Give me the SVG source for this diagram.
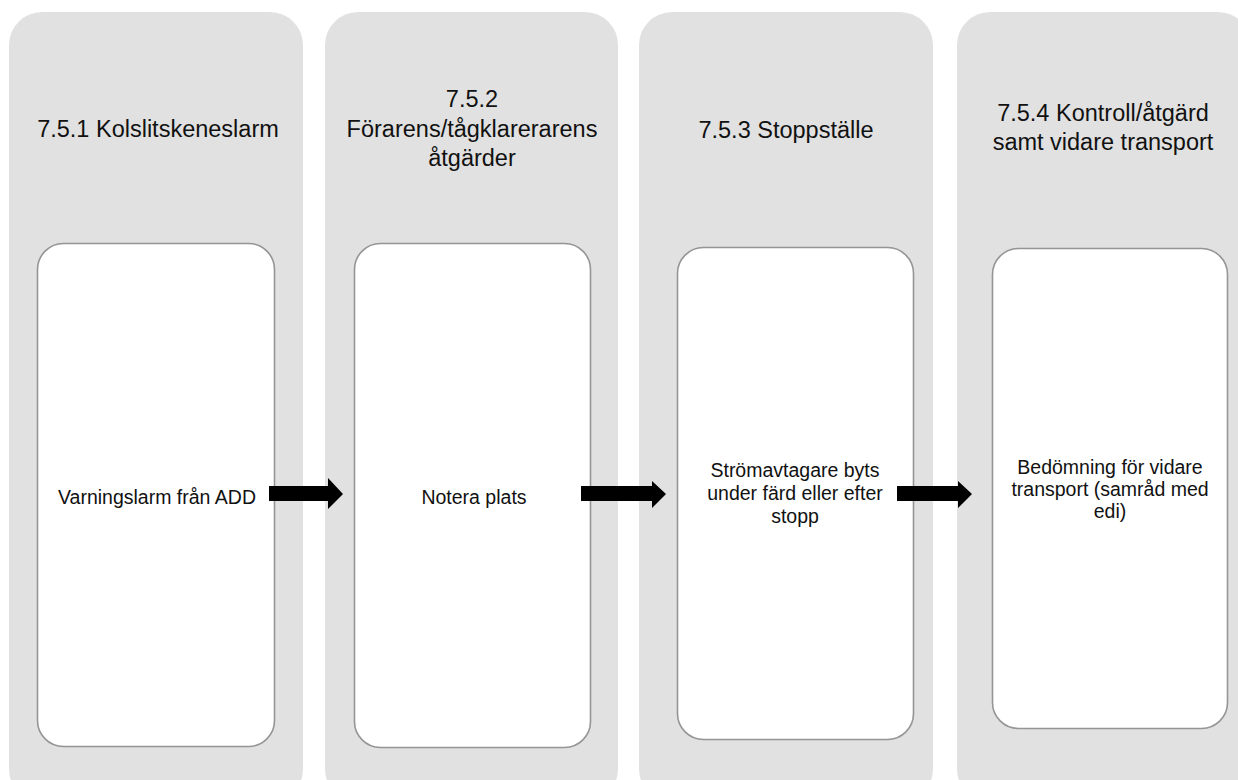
<svg xmlns="http://www.w3.org/2000/svg" width="1238" height="780" viewBox="0 0 1238 780">
<style>
.col{fill:#e1e1e1;}
.box{fill:#ffffff;stroke:#959595;stroke-width:1.6;}
.hd{font-family:"Liberation Sans",Arial,sans-serif;font-size:23.5px;fill:#111;text-anchor:middle;}
.tx{font-family:"Liberation Sans",Arial,sans-serif;font-size:19.5px;fill:#111;text-anchor:middle;}
.arr{fill:#000;}
</style>
<rect width="1238" height="780" fill="#ffffff"/>
<g id="lane1">
<rect class="col" x="9" y="12" width="294" height="790" rx="33"/>
<text class="hd" x="158" y="137">7.5.1 Kolslitskeneslarm</text>
</g>
<g id="lane2">
<rect class="col" x="325" y="12" width="293" height="790" rx="33"/>
<text class="hd" x="472" y="107">7.5.2</text>
<text class="hd" x="472" y="137">Förarens/tågklarerarens</text>
<text class="hd" x="472" y="166">åtgärder</text>
</g>
<g id="lane3">
<rect class="col" x="639" y="12" width="294" height="790" rx="33"/>
<text class="hd" x="786" y="138">7.5.3 Stoppställe</text>
</g>
<g id="lane4">
<rect class="col" x="957" y="12" width="294" height="790" rx="33"/>
<text class="hd" x="1103" y="121">7.5.4 Kontroll/åtgärd</text>
<text class="hd" x="1103" y="150">samt vidare transport</text>
</g>
<g id="node1">
<rect class="box" x="37.5" y="243.5" width="237" height="503" rx="26"/>
<text class="tx" x="157" y="504">Varningslarm från ADD</text>
</g>
<g id="node2">
<rect class="box" x="354.5" y="243.5" width="236" height="504" rx="26"/>
<text class="tx" x="474" y="504">Notera plats</text>
</g>
<g id="node3">
<rect class="box" x="677.5" y="247.5" width="236" height="492" rx="26"/>
<text class="tx" x="795" y="477">Strömavtagare byts</text>
<text class="tx" x="795" y="500">under färd eller efter</text>
<text class="tx" x="795" y="523">stopp</text>
</g>
<g id="node4">
<rect class="box" x="992.5" y="248.5" width="235" height="480" rx="26"/>
<text class="tx" x="1110" y="474">Bedömning för vidare</text>
<text class="tx" x="1110" y="496">transport (samråd med</text>
<text class="tx" x="1110" y="518">edi)</text>
</g>
<g id="connectors">
<polygon class="arr" points="269,486 328,486 328,478 343,494 328,509 328,501 269,501"/>
<polygon class="arr" points="581,486 652,486 652,481 666,494 652,508 652,501 581,501"/>
<polygon class="arr" points="897,486 958,486 958,481 972,494 958,508 958,501 897,501"/>
</g>
</svg>
